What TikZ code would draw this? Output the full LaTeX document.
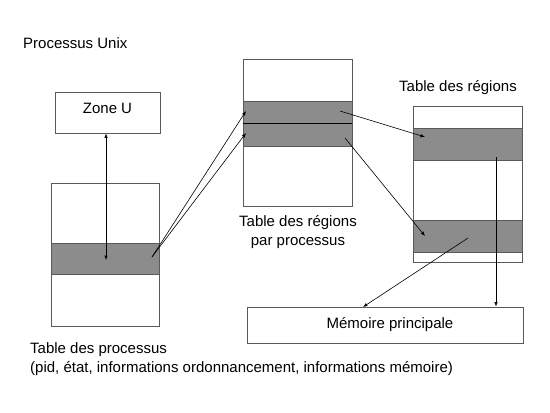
\documentclass[tikz,border=0pt]{standalone}
\usepackage{fontspec}
\setmainfont{Liberation Sans}
\usetikzlibrary{arrows.meta}

\definecolor{bandgray}{RGB}{140,140,140}
\definecolor{edgegray}{RGB}{90,90,90}

\tikzset{
  table/.style={draw=edgegray,line width=0.9pt,fill=white,inner sep=0pt},
  band/.style={draw=edgegray,line width=0.9pt,fill=bandgray,inner sep=0pt},
  label/.style={inner sep=0pt,font=\fontsize{15}{18.5}\selectfont},
  ptr/.style={-{Latex[length=4.5pt,width=3.5pt]},line width=0.6pt},
  dptr/.style={{Latex[length=4.5pt,width=3.5pt]}-{Latex[length=4.5pt,width=3.5pt]},line width=0.6pt}
}

\begin{document}
\begin{tikzpicture}[x=1pt,y=-1pt]
\useasboundingbox (0,0) rectangle (550,413);
{
% tables
\node[table,minimum width=105,minimum height=41] (zoneu) at (107.5,112.5) {};
\node[label] at (107.5,108) {Zone U};
\node[table,minimum width=108,minimum height=143] (proc) at (105,254.5) {};
\node[band,minimum width=108,minimum height=31] (procband) at (105,258.5) {};
\node[table,minimum width=109,minimum height=147] (regproc) at (297.5,132.5) {};
\node[band,minimum width=109,minimum height=22] (rpband1) at (297.5,112) {};
\node[band,minimum width=109,minimum height=23] (rpband2) at (297.5,134.5) {};
\draw[line width=1.6pt] (rpband1.south west) -- (rpband1.south east);
\node[table,minimum width=109,minimum height=156] (reg) at (467.5,184) {};
\node[band,minimum width=109,minimum height=32] (rband1) at (467.5,144) {};
\node[band,minimum width=109,minimum height=32] (rband2) at (467.5,236) {};
\node[table,minimum width=276,minimum height=36] (mem) at (385,325) {};
\node[label] at (390,325) {Mémoire principale};
% texts
\node[label,anchor=west] (title) at (23,43) {Processus Unix};
\node[label] (regtitle) at (458,88) {Table des régions};
\node[label,align=center] (rptitle) at (298,232) {Table des régions\\ par processus};
\node[label,align=left,anchor=west] (proctitle) at (30,359) {Table des processus\\(pid, état, informations ordonnancement, informations mémoire)};
% points in the bands
\coordinate (pu) at (106,260);
\coordinate (pa) at (152,257);
\coordinate (ra1) at (246,111);
\coordinate (ra2) at (246,133);
\coordinate (rb1) at (340,111);
\coordinate (rb2) at (345,138);
\coordinate (ta1) at (425,137);
\coordinate (ta2) at (425,236);
\coordinate (tb1) at (496,157);
\coordinate (tb2) at (468,238);
\coordinate (m1) at (363,307);
% connectors
\draw[dptr] (pu |- zoneu.south) -- (pu);
\draw[ptr] (pa) -- (ra1);
\draw[ptr] (pa) -- (ra2);
\draw[ptr] (rb1) -- (ta1);
\draw[ptr] (rb2) -- (ta2);
\draw[ptr] (tb2) -- (m1);
\draw[ptr] (tb1) -- (tb1 |- mem.north);
}
\end{tikzpicture}
\end{document}
